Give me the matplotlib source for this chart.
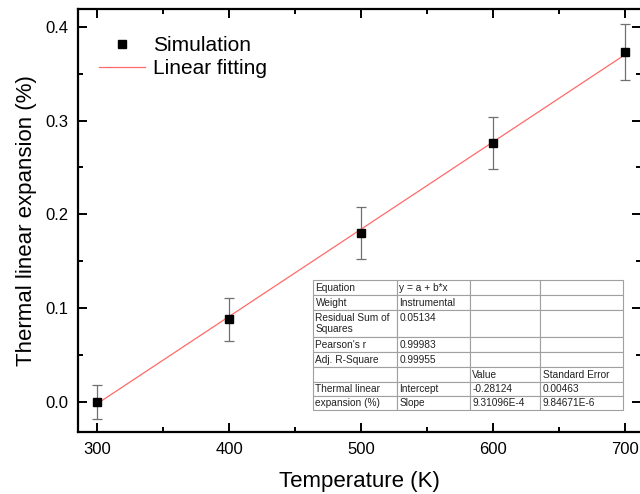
import matplotlib
matplotlib.use('Agg')
import matplotlib.pyplot as plt
from matplotlib.ticker import MultipleLocator, FormatStrFormatter

plt.rcParams['font.family'] = ['Liberation Sans', 'DejaVu Sans']

# data
temps = [300, 400, 500, 600, 700]
expansion = [0.0, 0.088, 0.180, 0.276, 0.373]
errors = [0.018, 0.023, 0.028, 0.028, 0.030]

# fit parameters as printed in the table
intercept = -0.28124
slope = 9.31096e-4

table_rows = [
    ['Equation', 'y = a + b*x', '', ''],
    ['Weight', 'Instrumental', '', ''],
    ['Residual Sum of\nSquares', '0.05134\n ', '', ''],
    ["Pearson's r", '0.99983', '', ''],
    ['Adj. R-Square', '0.99955', '', ''],
    ['', '', 'Value', 'Standard Error'],
    ['Thermal linear', 'Intercept', '-0.28124', '0.00463'],
    ['expansion (%)', 'Slope', '9.31096E-4', '9.84671E-6'],
]

fig = plt.figure(figsize=(6.4, 4.94), dpi=100)
ax = fig.add_axes([0.122, 0.1255, 0.88, 0.8565])

ax.errorbar(temps, expansion, yerr=errors, fmt='none', ecolor='#707070',
            elinewidth=0.9, capsize=3.5, capthick=0.9, zorder=2)
ax.plot(temps, expansion, 's', color='k', ms=6, label='Simulation', zorder=4)
fit_x = [temps[0], temps[-1]]
fit_y = [intercept + slope * t for t in fit_x]
ax.plot(fit_x, fit_y, color='#ff6a6a', lw=0.9, label='Linear fitting', zorder=3)

ax.set_xlim(285.6, 712)
ax.set_ylim(-0.032, 0.419)
ax.xaxis.set_major_locator(MultipleLocator(100))
ax.xaxis.set_minor_locator(MultipleLocator(50))
ax.yaxis.set_major_locator(MultipleLocator(0.1))
ax.yaxis.set_minor_locator(MultipleLocator(0.05))
ax.yaxis.set_major_formatter(FormatStrFormatter('%.1f'))
ax.tick_params(which='both', direction='in', top=True, right=True, width=1.4, labelsize=12)
ax.tick_params(which='major', length=6.5, pad=7)
ax.tick_params(which='minor', length=3.5)
for s in ax.spines.values():
    s.set_linewidth(1.6)

ax.set_xlabel('Temperature (K)', fontsize=16, labelpad=10)
ax.set_ylabel('Thermal linear expansion (%)', fontsize=16, labelpad=6)

ax.legend(loc='upper left', frameon=False, fontsize=15, handlelength=2.2,
          handletextpad=0.4, borderaxespad=0.6, labelspacing=0.2,
          bbox_to_anchor=(0.0, 0.985))

tbl = ax.table(cellText=table_rows, cellLoc='left', bbox=[0.417, 0.052, 0.551, 0.307])
tbl.auto_set_font_size(False)
tbl.set_fontsize(7.3)
row_h = [15, 15, 27, 15, 15, 15, 14, 14]
col_w = [84, 73, 70, 83]
for (r, c), cell in tbl.get_celld().items():
    cell.set_height(row_h[r])
    cell.set_width(col_w[c])
    cell.set_edgecolor('#a0a0a0')
    cell.set_linewidth(0.8)
    cell.PAD = 0.03
    cell.get_text().set_color('#222222')
tbl.set_zorder(5)

fig.savefig('out.png', dpi=100)
